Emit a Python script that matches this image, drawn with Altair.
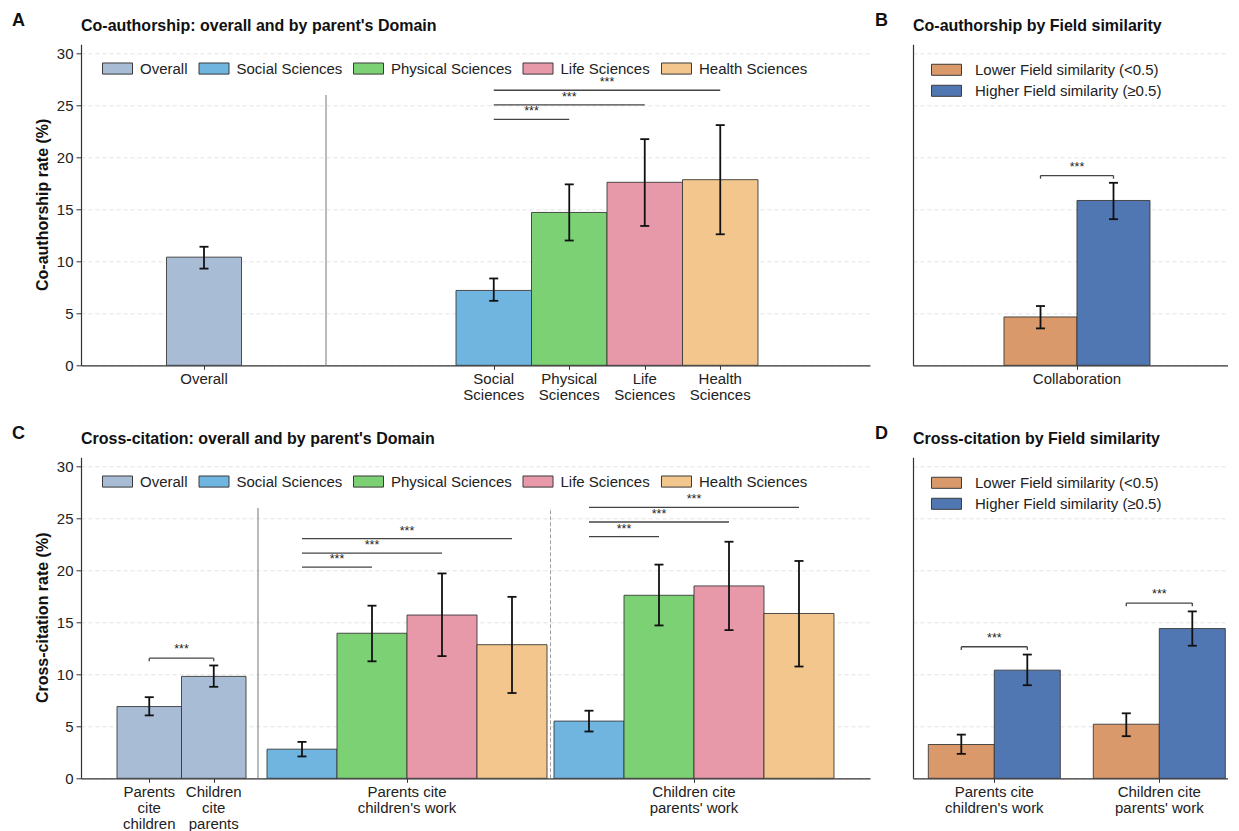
import altair as alt
import pandas as pd

# ---------------- data ----------------
domains = ["Overall", "Social Sciences", "Physical Sciences", "Life Sciences", "Health Sciences"]
domain_colors = ["#a9bcd6", "#6fb5e0", "#7bd174", "#e899a9", "#f2c68d"]
sim_levels = ["Lower Field similarity (<0.5)", "Higher Field similarity (≥0.5)"]
sim_colors = ["#d9996a", "#5177b3"]
domain_labels = ["Social\nSciences", "Physical\nSciences", "Life\nSciences", "Health\nSciences"]

# Panel A: co-authorship overall and by parent's domain
coauth_overall = [10.4]
coauth_overall_lo = [9.3]
coauth_overall_hi = [11.4]
coauth_domain = [7.2, 14.7, 17.6, 17.85]
coauth_domain_lo = [6.2, 12.0, 13.4, 12.6]
coauth_domain_hi = [8.35, 17.4, 21.75, 23.1]
coauth_sig_y = [23.65, 25.05, 26.45]

# Panel B: co-authorship by field similarity
coauth_sim = [4.65, 15.85]
coauth_sim_lo = [3.55, 14.05]
coauth_sim_hi = [5.7, 17.55]
coauth_sim_sig_y = [18.25]

# Panel C: cross-citation overall and by parent's domain
cite_overall_labels = ["Parents\ncite\nchildren", "Children\ncite\nparents"]
cite_overall = [6.9, 9.8]
cite_overall_lo = [6.05, 8.8]
cite_overall_hi = [7.8, 10.85]
cite_overall_sig_y = [11.55]
cite_dir_labels = ["Parents cite\nchildren's work", "Children cite\nparents' work"]
cite_p2c = [2.8, 13.95, 15.7, 12.85]
cite_p2c_lo = [2.1, 11.25, 11.75, 8.2]
cite_p2c_hi = [3.5, 16.6, 19.7, 17.45]
cite_c2p = [5.5, 17.6, 18.5, 15.85]
cite_c2p_lo = [4.5, 14.7, 14.25, 10.75]
cite_c2p_hi = [6.5, 20.55, 22.75, 20.9]
cite_p2c_sig_y = [20.3, 21.65, 23.05]
cite_c2p_sig_y = [23.25, 24.65, 26.05]

# Panel D: cross-citation by field similarity
cite_sim_lower = [3.25, 5.2]
cite_sim_lower_lo = [2.35, 4.05]
cite_sim_lower_hi = [4.2, 6.25]
cite_sim_higher = [10.4, 14.4]
cite_sim_higher_lo = [8.95, 12.75]
cite_sim_higher_hi = [11.9, 16.05]
cite_sim_sig_y = [12.65, 16.85]

separator_top = 26.0

# ---------------- layout / style ----------------
FONT = "Liberation Sans"
INK = "#222222"
AXC = "#333333"
YMAX = 30.87
H = 321
W_MAIN = 789
W_SIDE = 324
RECT = "M-1,-0.37L1,-0.37L1,0.37L-1,0.37Z"
RECT_SMALL = "M-2.5,-0.92L2.5,-0.92L2.5,0.92L-2.5,0.92Z"
CAP = 4.5
TICK_U = 0.3


def bars_frame(centers, width, vals, lo, hi, cats):
    return pd.DataFrame({
        "xc": centers,
        "x1": [c - width / 2 for c in centers],
        "x2": [c + width / 2 for c in centers],
        "cx1": [c - CAP for c in centers],
        "cx2": [c + CAP for c in centers],
        "v": vals, "zero": [0] * len(vals), "lo": lo, "hi": hi, "cat": cats,
    })


def sig_frame(x_from, x_tos, ys):
    return pd.DataFrame({
        "x1": [x_from] * len(x_tos), "x2": x_tos, "y": ys,
        "y2": [y - TICK_U for y in ys],
        "xm": [(x_from + t) / 2 for t in x_tos],
        "s": ["***"] * len(x_tos),
    })


def one(text):
    return pd.DataFrame({"t": [text]})


def panel(W, bars, cdom, crange, legend, ticks, labels, lines, brackets, seps, dashed_seps,
          letter, letter_x, title, ytitle):
    xs = alt.Scale(domain=[0, W], nice=False, zero=False)
    ys = alt.Scale(domain=[0, YMAX], nice=False, zero=True)
    show_y = ytitle is not None
    yaxis = alt.Axis(values=[0, 5, 10, 15, 20, 25, 30], grid=True, gridDash=[4, 3],
                     gridColor="#dcdcdc", gridWidth=0.8, labels=show_y, ticks=show_y,
                     tickSize=5, labelPadding=3, labelFontSize=15, title=None,
                     domainColor=AXC, domainWidth=1.2)
    xaxis = alt.Axis(values=ticks, labels=False, ticks=True, tickSize=4, grid=False,
                     title=None, domainColor=AXC, domainWidth=1.2, tickColor=AXC)

    def X(f):
        return alt.X(f, scale=xs, axis=xaxis)

    def Y(f):
        return alt.Y(f, scale=ys, axis=yaxis)

    base = alt.Chart(bars)
    layers = [
        base.mark_bar(stroke="#3a3a3a", strokeWidth=0.9, opacity=1).encode(
            x=X("x1:Q"), x2="x2:Q", y=Y("v:Q"), y2="zero:Q",
            color=alt.Color("cat:N", scale=alt.Scale(domain=cdom, range=crange), legend=legend),
        ),
        base.mark_rule(color="#111111", strokeWidth=1.8).encode(
            x=X("xc:Q"), y=Y("lo:Q"), y2="hi:Q"),
        base.mark_rule(color="#111111", strokeWidth=1.8).encode(
            x=X("cx1:Q"), x2="cx2:Q", y=Y("lo:Q")),
        base.mark_rule(color="#111111", strokeWidth=1.8).encode(
            x=X("cx1:Q"), x2="cx2:Q", y=Y("hi:Q")),
    ]
    if seps is not None:
        layers.append(alt.Chart(seps).mark_rule(color="#8c8c8c", strokeWidth=1.2).encode(
            x=X("x:Q"), y=Y("y0:Q"), y2="y1:Q"))
    if dashed_seps is not None:
        layers.append(alt.Chart(dashed_seps).mark_rule(color="#a0a0a0", strokeWidth=1,
                                                       strokeDash=[4, 2]).encode(
            x=X("x:Q"), y=Y("y0:Q"), y2="y1:Q"))
    for df in lines:
        c = alt.Chart(df)
        layers.append(c.mark_rule(color="#444444", strokeWidth=1.3).encode(
            x=X("x1:Q"), x2="x2:Q", y=Y("y:Q")))
        layers.append(c.mark_text(fontSize=12.5, dy=-4, baseline="alphabetic", color=INK,
                                  font=FONT).encode(x=X("xm:Q"), y=Y("y:Q"), text="s:N"))
    for df in brackets:
        c = alt.Chart(df)
        layers.append(c.mark_rule(color="#444444", strokeWidth=1.3).encode(
            x=X("x1:Q"), x2="x2:Q", y=Y("y:Q")))
        layers.append(c.mark_rule(color="#444444", strokeWidth=1.3).encode(
            x=X("x1:Q"), y=Y("y:Q"), y2="y2:Q"))
        layers.append(c.mark_rule(color="#444444", strokeWidth=1.3).encode(
            x=X("x2:Q"), y=Y("y:Q"), y2="y2:Q"))
        layers.append(c.mark_text(fontSize=12.5, dy=-5, baseline="alphabetic", color=INK,
                                  font=FONT).encode(x=X("xm:Q"), y=Y("y:Q"), text="s:N"))
    layers.append(alt.Chart(labels).mark_text(align="center", baseline="top", lineBreak="\n",
                                              fontSize=15, lineHeight=16, color=INK, font=FONT).encode(
        x=X("x:Q"), y=alt.value(H + 7), text="t:N"))
    layers.append(alt.Chart(one(letter)).mark_text(align="left", baseline="alphabetic", fontSize=18,
                                                   fontWeight="bold", color="#111111", font=FONT).encode(
        x=alt.value(letter_x), y=alt.value(-18.5), text="t:N"))
    layers.append(alt.Chart(one(title)).mark_text(align="left", baseline="alphabetic", fontSize=16,
                                                  fontWeight="bold", color="#111111", font=FONT).encode(
        x=alt.value(0), y=alt.value(-13.3), text="t:N"))
    if show_y:
        layers.append(alt.Chart(one(ytitle)).mark_text(align="center", baseline="middle", angle=270,
                                                       fontSize=16, fontWeight="bold", color="#111111",
                                                       font=FONT).encode(
            x=alt.value(-38), y=alt.value(H / 2), text="t:N"))
    return alt.layer(*layers).properties(width=W, height=H)


def hlegend():
    return alt.Legend(orient="none", legendX=21, legendY=8.5, direction="horizontal", title=None,
                      symbolType=RECT, symbolSize=900, symbolStrokeColor="#3a3a3a",
                      symbolStrokeWidth=1, symbolOpacity=1, labelFontSize=15, labelFont=FONT,
                      labelColor=INK, labelOffset=7, columnPadding=8.5, padding=0, labelLimit=400)


def vlegend():
    return alt.Legend(orient="none", legendX=26, legendY=18, direction="vertical", title=None,
                      symbolType=RECT_SMALL, symbolSize=144, symbolStrokeColor="#3a3a3a",
                      symbolStrokeWidth=1, symbolOpacity=1, labelFontSize=15, labelFont=FONT,
                      labelColor=INK, labelOffset=21, rowPadding=4, padding=0, labelLimit=400)


# ---- Panel A ----
A_over_c = 123
A_grp_c = 526
A_bw = 75.5
A_dom_c = [A_grp_c + (i - 1.5) * A_bw for i in range(4)]
barsA = pd.concat([
    bars_frame([A_over_c], 75, coauth_overall, coauth_overall_lo, coauth_overall_hi, [domains[0]]),
    bars_frame(A_dom_c, A_bw, coauth_domain, coauth_domain_lo, coauth_domain_hi, domains[1:]),
], ignore_index=True)
labelsA = pd.DataFrame({"x": [A_over_c] + A_dom_c, "t": ["Overall"] + domain_labels})
sepA = pd.DataFrame({"x": [245], "y0": [0], "y1": [separator_top]})
chartA = panel(W_MAIN, barsA, domains, domain_colors, hlegend(), [A_over_c] + A_dom_c, labelsA,
               [sig_frame(A_dom_c[0], A_dom_c[1:], coauth_sig_y)], [], sepA, None,
               "A", -69, "Co-authorship: overall and by parent's Domain", "Co-authorship rate (%)")

# ---- Panel B ----
B_c = 164
B_bw = 73
B_cs = [B_c - B_bw / 2, B_c + B_bw / 2]
barsB = bars_frame(B_cs, B_bw, coauth_sim, coauth_sim_lo, coauth_sim_hi, sim_levels)
labelsB = pd.DataFrame({"x": [B_c], "t": ["Collaboration"]})
chartB = panel(W_SIDE, barsB, sim_levels, sim_colors, vlegend(), [B_c], labelsB, [],
               [sig_frame(B_cs[0], [B_cs[1]], coauth_sim_sig_y)], None, None,
               "B", -38, "Co-authorship by Field similarity", None)

# ---- Panel C ----
C_pair_c = 100.5
C_pair_bw = 64.5
C_pair = [C_pair_c - C_pair_bw / 2, C_pair_c + C_pair_bw / 2]
C_g1 = 326
C_g2 = 613
C_bw = 70
C_g1_c = [C_g1 + (i - 1.5) * C_bw for i in range(4)]
C_g2_c = [C_g2 + (i - 1.5) * C_bw for i in range(4)]
barsC = pd.concat([
    bars_frame(C_pair, C_pair_bw, cite_overall, cite_overall_lo, cite_overall_hi, [domains[0]] * 2),
    bars_frame(C_g1_c, C_bw, cite_p2c, cite_p2c_lo, cite_p2c_hi, domains[1:]),
    bars_frame(C_g2_c, C_bw, cite_c2p, cite_c2p_lo, cite_c2p_hi, domains[1:]),
], ignore_index=True)
labelsC = pd.DataFrame({"x": C_pair + [C_g1, C_g2], "t": cite_overall_labels + cite_dir_labels})
sepC = pd.DataFrame({"x": [177], "y0": [0], "y1": [separator_top]})
dsepC = pd.DataFrame({"x": [469.5], "y0": [0], "y1": [separator_top]})
chartC = panel(W_MAIN, barsC, domains, domain_colors, hlegend(), C_pair + [C_g1, C_g2], labelsC,
               [sig_frame(C_g1_c[0], C_g1_c[1:], cite_p2c_sig_y),
                sig_frame(C_g2_c[0], C_g2_c[1:], cite_c2p_sig_y)],
               [sig_frame(C_pair[0], [C_pair[1]], cite_overall_sig_y)], sepC, dsepC,
               "C", -69, "Cross-citation: overall and by parent's Domain", "Cross-citation rate (%)")

# ---- Panel D ----
D_g = [81.3, 246.3]
D_bw = 66
barsD = pd.concat([
    bars_frame([D_g[0] - D_bw / 2, D_g[0] + D_bw / 2], D_bw,
               [cite_sim_lower[0], cite_sim_higher[0]], [cite_sim_lower_lo[0], cite_sim_higher_lo[0]],
               [cite_sim_lower_hi[0], cite_sim_higher_hi[0]], sim_levels),
    bars_frame([D_g[1] - D_bw / 2, D_g[1] + D_bw / 2], D_bw,
               [cite_sim_lower[1], cite_sim_higher[1]], [cite_sim_lower_lo[1], cite_sim_higher_lo[1]],
               [cite_sim_lower_hi[1], cite_sim_higher_hi[1]], sim_levels),
], ignore_index=True)
labelsD = pd.DataFrame({"x": D_g, "t": cite_dir_labels})
bracketsD = [sig_frame(g - D_bw / 2, [g + D_bw / 2], [y]) for g, y in zip(D_g, cite_sim_sig_y)]
chartD = panel(W_SIDE, barsD, sim_levels, sim_colors, vlegend(), D_g, labelsD, [], bracketsD,
               None, None, "D", -38, "Cross-citation by Field similarity", None)

chart = alt.concat(chartA, chartB, chartC, chartD, columns=2,
                   spacing={"row": 92, "column": 43}, bounds="flush")
chart = chart.resolve_scale(color="independent", x="independent", y="independent")
chart = chart.resolve_legend(color="independent")
chart = chart.properties(padding={"left": 4, "top": 3.3, "right": -9, "bottom": 0},
                         background="white")
chart = chart.configure_view(stroke=None).configure_axis(
    labelFont=FONT, labelColor=INK, tickColor=AXC, domainColor=AXC)

chart.save("out.html", embed_options={"renderer": "svg", "actions": False})
